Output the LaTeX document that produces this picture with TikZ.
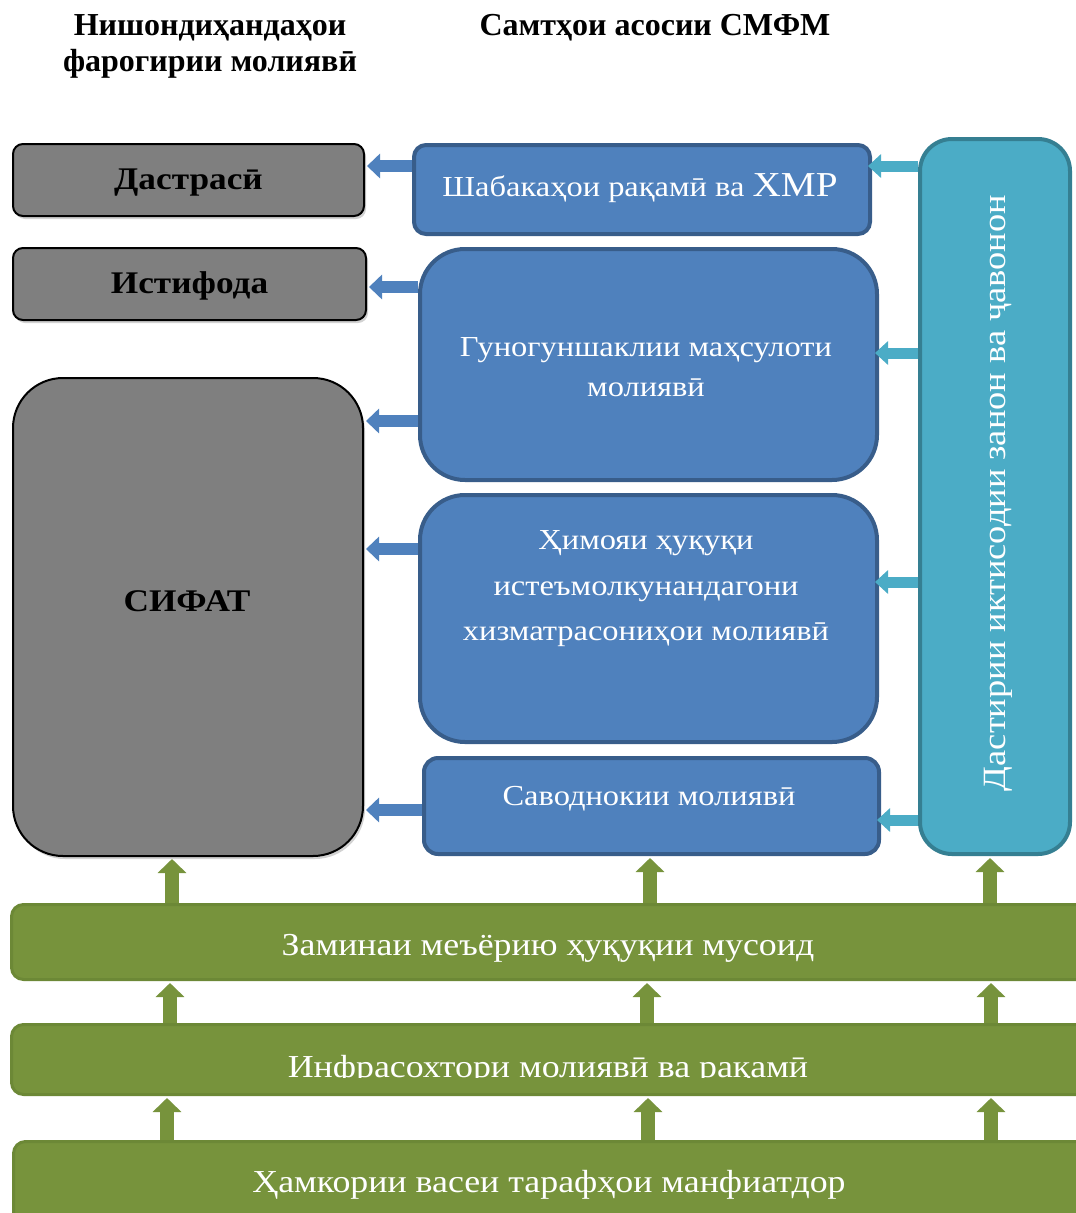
\documentclass[tikz,border=0pt]{standalone}
\usepackage{fontspec}
\setmainfont{Liberation Serif}
\newfontfamily\boxfont[FakeStretch=1.12]{Liberation Serif}
\usetikzlibrary{arrows.meta,shadows,calc}
\definecolor{grayfill}{HTML}{7F7F7F}
\definecolor{bluefill}{HTML}{4F81BD}
\definecolor{blueline}{HTML}{385D8A}
\definecolor{tealfill}{HTML}{4BACC6}
\definecolor{tealline}{HTML}{357F92}
\definecolor{greenfill}{HTML}{77933C}
\definecolor{greenline}{HTML}{6C8836}
\tikzset{
  graybox/.style={rectangle, draw=black, line width=2pt, fill=grayfill, anchor=north west, inner sep=0pt,
    drop shadow={opacity=0.35, shadow xshift=2pt, shadow yshift=-3pt}},
  bluebox/.style={rectangle, draw=blueline, line width=4pt, fill=bluefill, anchor=north west, inner sep=0pt},
  tealbox/.style={rectangle, draw=tealline, line width=4pt, fill=tealfill, anchor=north west, inner sep=0pt},
  greenbox/.style={rectangle, draw=greenline, line width=3pt, fill=greenfill, anchor=north west, inner sep=0pt, rounded corners=12pt},
  headtext/.style={font=\fontsize{32}{36}\selectfont\bfseries, text=black, align=center, inner sep=0pt},
  graytext/.style={font=\boxfont\fontsize{31.5}{34}\selectfont\bfseries, text=black, inner sep=0pt},
  bluetext/.style={font=\boxfont\fontsize{29}{44}\selectfont, text=white, align=center, inner sep=0pt},
  greentext/.style={font=\boxfont\fontsize{32}{36}\selectfont, text=white, inner sep=0pt},
  bluearr/.style={draw=bluefill, line width=12pt, -{Triangle[width=24pt,length=13pt]}, shorten >=2pt},
  tealarr/.style={draw=tealfill, line width=11pt, -{Triangle[width=23pt,length=13pt]}, shorten >=-4pt},
  greenarr/.style={draw=greenfill, line width=14pt, -{Triangle[width=28pt,length=14pt]}, shorten >=2pt},
}
\begin{document}
\begin{tikzpicture}[x=1pt,y=-1pt]
\useasboundingbox (0,0) rectangle (1076,1213);
\clip (0,0) rectangle (1076,1213);
\fill[white] (0,0) rectangle (1076,1213);

% headers
\node[headtext] (h1) at (210,46) {Нишондиҳандаҳои\\фарогирии молиявӣ};
\node[headtext, anchor=base] (h2) at (655,35) {Самтҳои асосии СМФМ};

% left gray boxes
\node[graybox, minimum width=351pt, minimum height=72pt, rounded corners=10pt] (dast) at (12,143) {};
\node[graybox, minimum width=353pt, minimum height=72pt, rounded corners=10pt] (istif) at (12,247) {};
\node[graybox, minimum width=350pt, minimum height=478pt, rounded corners=50pt] (sifat) at (12,377) {};
\node[graytext] (tdast) at ($(dast.center)+(0,3)$) {Дастрасӣ};
\node[graytext] (tistif) at ($(istif.center)+(0,2)$) {Истифода};
\node[graytext] (tsifat) at (187,601) {СИФАТ};

% blue boxes
\node[bluebox, minimum width=456pt, minimum height=89pt, rounded corners=12pt] (b1) at (412,143) {};
\node[bluebox, minimum width=457pt, minimum height=231pt, rounded corners=45pt] (b2) at (418,247) {};
\node[bluebox, minimum width=457pt, minimum height=247pt, rounded corners=45pt] (b3) at (418,493) {};
\node[bluebox, minimum width=455pt, minimum height=96pt, rounded corners=14pt] (b4) at (422,756) {};
\node[bluetext] (tb1) at (640,188) {Шабакаҳои рақамӣ ва {\fontsize{35}{35}\selectfont ХМР}};
\node[bluetext, font=\boxfont\fontsize{29}{40}\selectfont] (tb2) at (646,367) {Гуногуншаклии маҳсулоти\\молиявӣ};
\node[bluetext, font=\boxfont\fontsize{29}{45.5}\selectfont] (tb3) at (646,589) {Ҳимояи ҳуқуқи\\истеъмолкунандагони\\хизматрасониҳои молиявӣ};
\node[bluetext] (tb4) at (649,799) {Саводнокии молиявӣ};

% teal box
\node[tealbox, minimum width=150pt, minimum height=715pt, rounded corners=32pt] (teal) at (918,137) {};
\node[greentext, font=\boxfont\fontsize{32.5}{36}\selectfont, rotate=90] (tteal) at (998,493) {Дастирии иктисодии занон ва ҷавонон};

% green boxes
\node[greenbox, minimum width=1090pt, minimum height=75pt] (g1) at (10,903) {};
\node[greenbox, minimum width=1090pt, minimum height=70pt] (g2) at (10,1023) {};
\node[greenbox, minimum width=1090pt, minimum height=82pt] (g3) at (12,1140) {};
\node[greentext, anchor=base] (tg1) at (548,955) {Заминаи меъёрию ҳуқуқии мусоид};
\begin{scope}
\clip (0,1020) rectangle (1076,1077);
\node[greentext, anchor=base] (tg2) at (548,1077) {Инфрасохтори молиявӣ ва рақамӣ};
\end{scope}
\node[greentext, anchor=base] (tg3) at (549,1192) {Ҳамкории васеи тарафҳои манфиатдор};

% blue arrows to the left
\draw[bluearr] (b1.west |- 0,166) -- (dast.east |- 0,166);
\draw[bluearr] (b2.west |- 0,287) -- (istif.east |- 0,287);
\draw[bluearr] (b2.west |- 0,421) -- (sifat.east |- 0,421);
\draw[bluearr] (b3.west |- 0,549) -- (sifat.east |- 0,549);
\draw[bluearr] (b4.west |- 0,810) -- (sifat.east |- 0,810);

% teal arrows to the left
\draw[tealarr] (teal.west |- 0,166) -- (b1.east |- 0,166);
\draw[tealarr] (teal.west |- 0,353) -- (b2.east |- 0,353);
\draw[tealarr] (teal.west |- 0,582) -- (b3.east |- 0,582);
\draw[tealarr] (teal.west |- 0,820) -- (b4.east |- 0,820);

% green arrows up
\draw[greenarr] (g1.north -| 172,0) -- (sifat.south -| 172,0);
\draw[greenarr] (g1.north -| 650,0) -- (b4.south -| 650,0);
\draw[greenarr] (g1.north -| 990,0) -- (teal.south -| 990,0);
\draw[greenarr] (g2.north -| 170,0) -- (g1.south -| 170,0);
\draw[greenarr] (g2.north -| 647,0) -- (g1.south -| 647,0);
\draw[greenarr] (g2.north -| 991,0) -- (g1.south -| 991,0);
\draw[greenarr] (g3.north -| 167,0) -- (g2.south -| 167,0);
\draw[greenarr] (g3.north -| 648,0) -- (g2.south -| 648,0);
\draw[greenarr] (g3.north -| 991,0) -- (g2.south -| 991,0);
\end{tikzpicture}
\end{document}
